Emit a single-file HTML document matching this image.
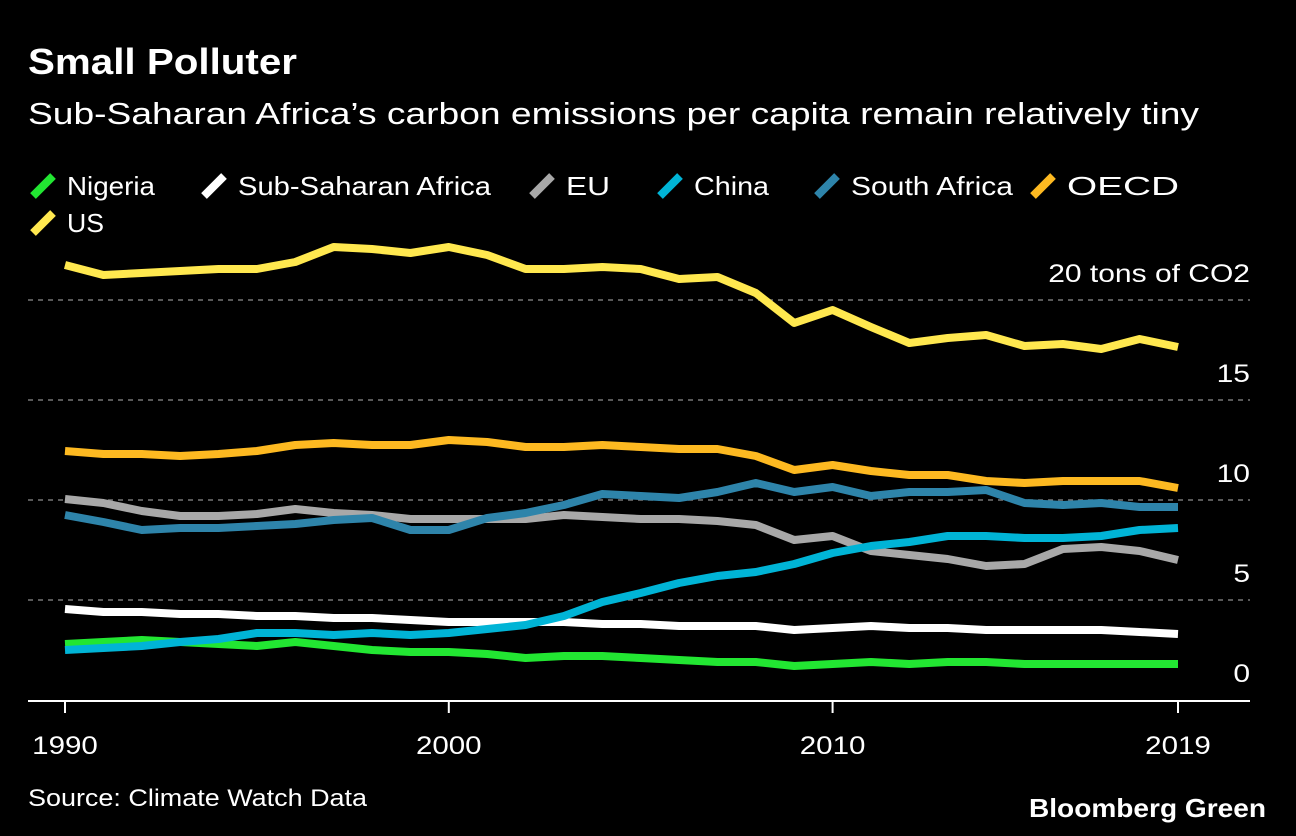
<!DOCTYPE html>
<html><head><meta charset="utf-8"><style>
body{margin:0;background:#000;width:1296px;height:836px;overflow:hidden;font-family:"Liberation Sans",sans-serif;color:#fff}
</style></head><body>
<svg width="1296" height="836" style="position:absolute;left:0;top:0">
<text x="28" y="74" font-size="36" font-weight="bold" fill="#fff" textLength="269" lengthAdjust="spacingAndGlyphs">Small Polluter</text>
<text x="28" y="124" font-size="31" fill="#fff" textLength="1171" lengthAdjust="spacingAndGlyphs">Sub-Saharan Africa’s carbon emissions per capita remain relatively tiny</text>
<g id="legend"></g>
<g id="grid"></g>
<g id="series"></g>
<g id="xaxis"></g>
<text x="28" y="806" font-size="24" fill="#fff" textLength="339" lengthAdjust="spacingAndGlyphs">Source: Climate Watch Data</text>
<text x="1029" y="817" font-size="26" font-weight="bold" fill="#fff" textLength="237" lengthAdjust="spacingAndGlyphs">Bloomberg Green</text>
</svg>
<script>
const years=[];for(let y=1990;y<=2019;y++)years.push(y);
const nigeria=[2.8,2.9,3,2.9,2.8,2.7,2.9,2.7,2.5,2.4,2.4,2.3,2.1,2.2,2.2,2.1,2,1.9,1.9,1.7,1.8,1.9,1.8,1.9,1.9,1.8,1.8,1.8,1.8,1.8];
const ssa=[4.55,4.4,4.4,4.3,4.3,4.2,4.2,4.1,4.1,4,3.9,3.9,3.9,3.9,3.8,3.8,3.7,3.7,3.7,3.5,3.6,3.7,3.6,3.6,3.5,3.5,3.5,3.5,3.4,3.3];
const eu=[10.05,9.85,9.45,9.2,9.2,9.3,9.55,9.35,9.25,9.05,9.05,9.05,9.05,9.25,9.15,9.05,9.05,8.95,8.75,8,8.2,7.45,7.25,7.05,6.7,6.8,7.55,7.65,7.45,7];
const china=[2.5,2.6,2.7,2.9,3.05,3.35,3.35,3.25,3.35,3.25,3.35,3.55,3.75,4.2,4.9,5.35,5.85,6.2,6.4,6.8,7.35,7.7,7.9,8.2,8.2,8.1,8.1,8.2,8.5,8.6];
const southAfrica=[9.25,8.9,8.5,8.6,8.6,8.7,8.8,9,9.1,8.5,8.5,9.1,9.35,9.75,10.3,10.2,10.1,10.4,10.85,10.4,10.65,10.2,10.4,10.4,10.5,9.85,9.75,9.85,9.65,9.65];
const oecd=[12.45,12.3,12.3,12.2,12.3,12.45,12.75,12.85,12.75,12.75,13,12.9,12.65,12.65,12.75,12.65,12.55,12.55,12.2,11.5,11.75,11.45,11.25,11.25,10.95,10.85,10.95,10.95,10.95,10.6];
const us=[21.75,21.25,21.35,21.45,21.55,21.55,21.9,22.65,22.55,22.35,22.65,22.25,21.55,21.55,21.65,21.55,21.05,21.15,20.35,18.85,19.5,18.65,17.85,18.1,18.25,17.7,17.8,17.55,18.05,17.65];
const yTicks=[0,5,10,15,20];
const yTickLabels=["0","5","10","15","20 tons of CO2"];
const xTicks=[1990,2000,2010,2019];
const NS="http://www.w3.org/2000/svg";
const X=y=>65+(y-1990)*(1178-65)/29;
const Y=v=>700-v*20;
function mk(t,a,p){const e=document.createElementNS(NS,t);for(const k in a)e.setAttribute(k,a[k]);p.appendChild(e);return e;}
function widen(t,f){const w=t.getComputedTextLength();t.setAttribute('textLength',w*f);t.setAttribute('lengthAdjust','spacingAndGlyphs');}
const grid=document.getElementById('grid');
yTicks.forEach((t,i)=>{
 if(t>0){const l=mk('line',{x1:28,x2:1250,y1:Y(t),y2:Y(t),stroke:'#777','stroke-width':1.5,'stroke-dasharray':'5,5'},grid);
 
 }
 const tx=mk('text',{x:1250,y:Y(t)-18,'font-size':25,fill:'#fff','text-anchor':'end'},grid);
 tx.textContent=yTickLabels[i];
 
 
 widen(tx,1.2);
});
const series=[["Nigeria",nigeria,"#22e632"],["Sub-Saharan Africa",ssa,"#ffffff"],["EU",eu,"#a8a8a8"],["China",china,"#00b4d6"],["South Africa",southAfrica,"#2e84aa"],["OECD",oecd,"#fdb921"],["US",us,"#ffe84f"]];
const sg=document.getElementById('series');
series.forEach(s=>{
 const p=mk('polyline',{points:s[1].map((v,i)=>X(years[i])+','+Y(v)).join(' '),fill:'none',stroke:s[2],'stroke-width':8,'stroke-linejoin':'round'},sg);
 
 
});
const xa=document.getElementById('xaxis');
const ax=mk('line',{x1:28,x2:1250,y1:701,y2:701,stroke:'#fff','stroke-width':2},xa);


xTicks.forEach(t=>{
 const tk=mk('line',{x1:X(t),x2:X(t),y1:701,y2:713,stroke:'#fff','stroke-width':2},xa);
 
 
 const tx=mk('text',{x:X(t),y:754,'font-size':25,fill:'#fff','text-anchor':'middle'},xa);
 tx.textContent=t;
 
 
 widen(tx,1.18);
});
const lg=document.getElementById('legend');
const pos=[[67,186,88],[238,186,253],[566,186,44],[694,186,75],[851,186,162],[1067,186,112],[67,223,37]];
series.forEach((s,i)=>{
 const [lx,ly,lw]=pos[i];
 const g=mk('g',{},lg);
 
 
 mk('line',{x1:lx-34,y1:ly+10,x2:lx-14,y2:ly-10,stroke:s[2],'stroke-width':8},g);
 const t=mk('text',{x:lx,y:ly+9,'font-size':26,fill:'#fff',textLength:lw,lengthAdjust:'spacingAndGlyphs'},g);
 t.textContent=s[0];
});
</script>
</body></html>
